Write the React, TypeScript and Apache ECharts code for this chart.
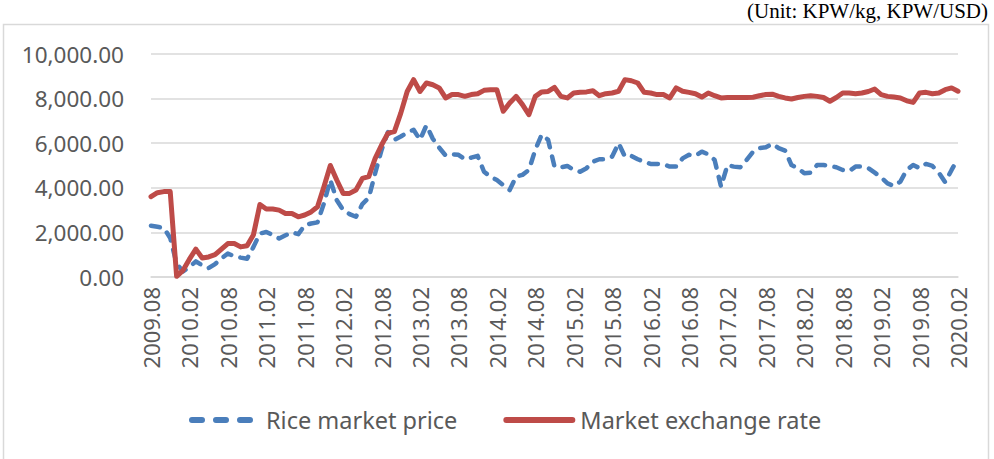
import React, { useEffect, useRef } from "react";
import * as echarts from "echarts";

const months: string[] = [
  "2009.08","2009.09","2009.10","2009.11","2009.12",
  "2010.01","2010.02","2010.03","2010.04","2010.05","2010.06","2010.07","2010.08","2010.09","2010.10","2010.11","2010.12",
  "2011.01","2011.02","2011.03","2011.04","2011.05","2011.06","2011.07","2011.08","2011.09","2011.10","2011.11","2011.12",
  "2012.01","2012.02","2012.03","2012.04","2012.05","2012.06","2012.07","2012.08","2012.09","2012.10","2012.11","2012.12",
  "2013.01","2013.02","2013.03","2013.04","2013.05","2013.06","2013.07","2013.08","2013.09","2013.10","2013.11","2013.12",
  "2014.01","2014.02","2014.03","2014.04","2014.05","2014.06","2014.07","2014.08","2014.09","2014.10","2014.11","2014.12",
  "2015.01","2015.02","2015.03","2015.04","2015.05","2015.06","2015.07","2015.08","2015.09","2015.10","2015.11","2015.12",
  "2016.01","2016.02","2016.03","2016.04","2016.05","2016.06","2016.07","2016.08","2016.09","2016.10","2016.11","2016.12",
  "2017.01","2017.02","2017.03","2017.04","2017.05","2017.06","2017.07","2017.08","2017.09","2017.10","2017.11","2017.12",
  "2018.01","2018.02","2018.03","2018.04","2018.05","2018.06","2018.07","2018.08","2018.09","2018.10","2018.11","2018.12",
  "2019.01","2019.02","2019.03","2019.04","2019.05","2019.06","2019.07","2019.08","2019.09","2019.10","2019.11","2019.12",
  "2020.01","2020.02",
];

const ricePrice: number[] = [
  2300, 2250, 2200, 1750, 600,
  250, 450, 700, 520, 400, 580, 830, 1050, 930, 870, 820, 1350,
  1950, 2020, 1880, 1730, 1870, 2000, 1920, 2320, 2400, 2450, 3300, 4350,
  3450, 3000, 2820, 2700, 3270, 3550, 4650, 5700, 6500, 6150, 6300, 6480,
  6600, 6150, 6800, 6200, 5800, 5450, 5500, 5480, 5280, 5350, 5430, 4720,
  4500, 4350, 4120, 3900, 4500, 4580, 4800, 5700, 6380, 6150, 4950, 4920,
  4980, 4800, 4720, 4880, 5170, 5280, 5280, 5400, 6000, 5400, 5430, 5280,
  5170, 5070, 5070, 5050, 4950, 4950, 5320, 5480, 5430, 5620, 5500, 5250,
  4050, 5020, 4950, 4920, 5250, 5620, 5780, 5820, 5970, 5780, 5670, 5020,
  4880, 4650, 4680, 5020, 5020, 4980, 4920, 4800, 4750, 4950, 4950, 4880,
  4680, 4470, 4200, 4080, 4280, 4800, 5020, 4880, 5070, 4980, 4680, 4250,
  4800, 5320,
];

const exchangeRate: number[] = [
  3600, 3780, 3830, 3830, 30,
  300, 800, 1250, 850, 900, 1000, 1250, 1500, 1500, 1350, 1400, 1900,
  3250, 3050, 3050, 3000, 2850, 2850, 2700, 2780, 2920, 3150, 4050, 5000,
  4350, 3750, 3750, 3900, 4420, 4500, 5320, 5920, 6450, 6520, 7350, 8320,
  8850, 8320, 8700, 8620, 8480, 8030, 8180, 8180, 8100, 8180, 8220, 8370,
  8400, 8400, 7430, 7800, 8100, 7730, 7280, 8100, 8300, 8320, 8500, 8100,
  8030, 8250, 8280, 8300, 8350, 8130, 8220, 8250, 8330, 8850, 8800, 8700,
  8280, 8250, 8180, 8180, 8030, 8480, 8330, 8280, 8220, 8070, 8250, 8130,
  8030, 8050, 8050, 8050, 8050, 8060, 8130, 8180, 8200, 8100, 8030, 7980,
  8050, 8100, 8130, 8100, 8050, 7880, 8050, 8250, 8250, 8220, 8250, 8320,
  8430, 8180, 8100, 8070, 8030, 7900, 7830, 8250, 8280, 8220, 8250, 8400,
  8480, 8330,
];

const seriesNames = ["Rice market price", "Market exchange rate"];
const unitText = "(Unit: KPW/kg, KPW/USD)";

const FONT = "'Noto Sans', sans-serif";
const GREY = "#595959";
const BLUE = "#4a7ebb";
const RED = "#be4b48";

export default function App() {
  const ref = useRef<HTMLDivElement>(null);
  useEffect(() => {
    if (!ref.current) return;
    const chart = echarts.init(ref.current, undefined, { renderer: "svg" });
    chart.setOption({
      animation: false,
      backgroundColor: "#ffffff",
      textStyle: { fontFamily: FONT },
      graphic: [
        {
          type: "rect",
          shape: { x: 3.5, y: 24.5, width: 985, height: 440 },
          style: { fill: "none", stroke: "#d9d9d9", lineWidth: 1.5 },
          silent: true,
        },
        {
          type: "text",
          right: 6,
          top: 0,
          style: {
            text: unitText,
            font: "21px 'Liberation Serif', serif",
            fill: "#000000",
          },
        },
      ],
      grid: { left: 151, right: 36, top: 54, bottom: 182, containLabel: false },
      legend: {
        data: [
          {
            name: seriesNames[0],
            lineStyle: { color: BLUE, width: 6, type: [10, 14], cap: "round" },
          },
          {
            name: seriesNames[1],
            lineStyle: { color: RED, width: 6, type: "solid", cap: "round" },
          },
        ],
        bottom: 22,
        left: 184,
        itemWidth: 66,
        itemHeight: 12,
        itemGap: 46,
        itemStyle: { opacity: 0 },
        textStyle: { color: GREY, fontSize: 23.5, fontFamily: FONT, padding: [0, 0, 0, 3] },
      },
      xAxis: {
        type: "category",
        data: months,
        boundaryGap: false,
        axisLine: { show: true, lineStyle: { color: "#d9d9d9", width: 1.5 } },
        axisTick: { show: false },
        axisLabel: {
          interval: 5,
          rotate: 90,
          margin: 10,
          color: GREY,
          fontSize: 22,
          fontFamily: FONT,
        },
        splitLine: { show: false },
      },
      yAxis: {
        type: "value",
        min: 0,
        max: 10000,
        interval: 2000,
        axisLine: { show: false },
        axisTick: { show: false },
        axisLabel: {
          margin: 27,
          color: GREY,
          fontSize: 22.5,
          fontFamily: FONT,
          formatter: (v: number) =>
            v.toLocaleString("en-US", { minimumFractionDigits: 2, maximumFractionDigits: 2 }),
        },
        splitLine: { lineStyle: { color: "#d9d9d9", width: 1.5 } },
      },
      series: [
        {
          name: seriesNames[0],
          type: "line",
          data: ricePrice,
          showSymbol: false,
          symbol: "none",
          color: BLUE,
          lineStyle: { color: BLUE, width: 4.5, type: [9, 9.5], cap: "round", join: "round" },
          z: 2,
        },
        {
          name: seriesNames[1],
          type: "line",
          data: exchangeRate,
          showSymbol: false,
          symbol: "none",
          color: RED,
          lineStyle: { color: RED, width: 5, type: "solid", cap: "round", join: "round" },
          z: 3,
        },
      ],
    });
    return () => chart.dispose();
  }, []);
  return (
    <div
      ref={ref}
      style={{ position: "fixed", left: 0, top: 0, width: 994, height: 459 }}
    />
  );
}
